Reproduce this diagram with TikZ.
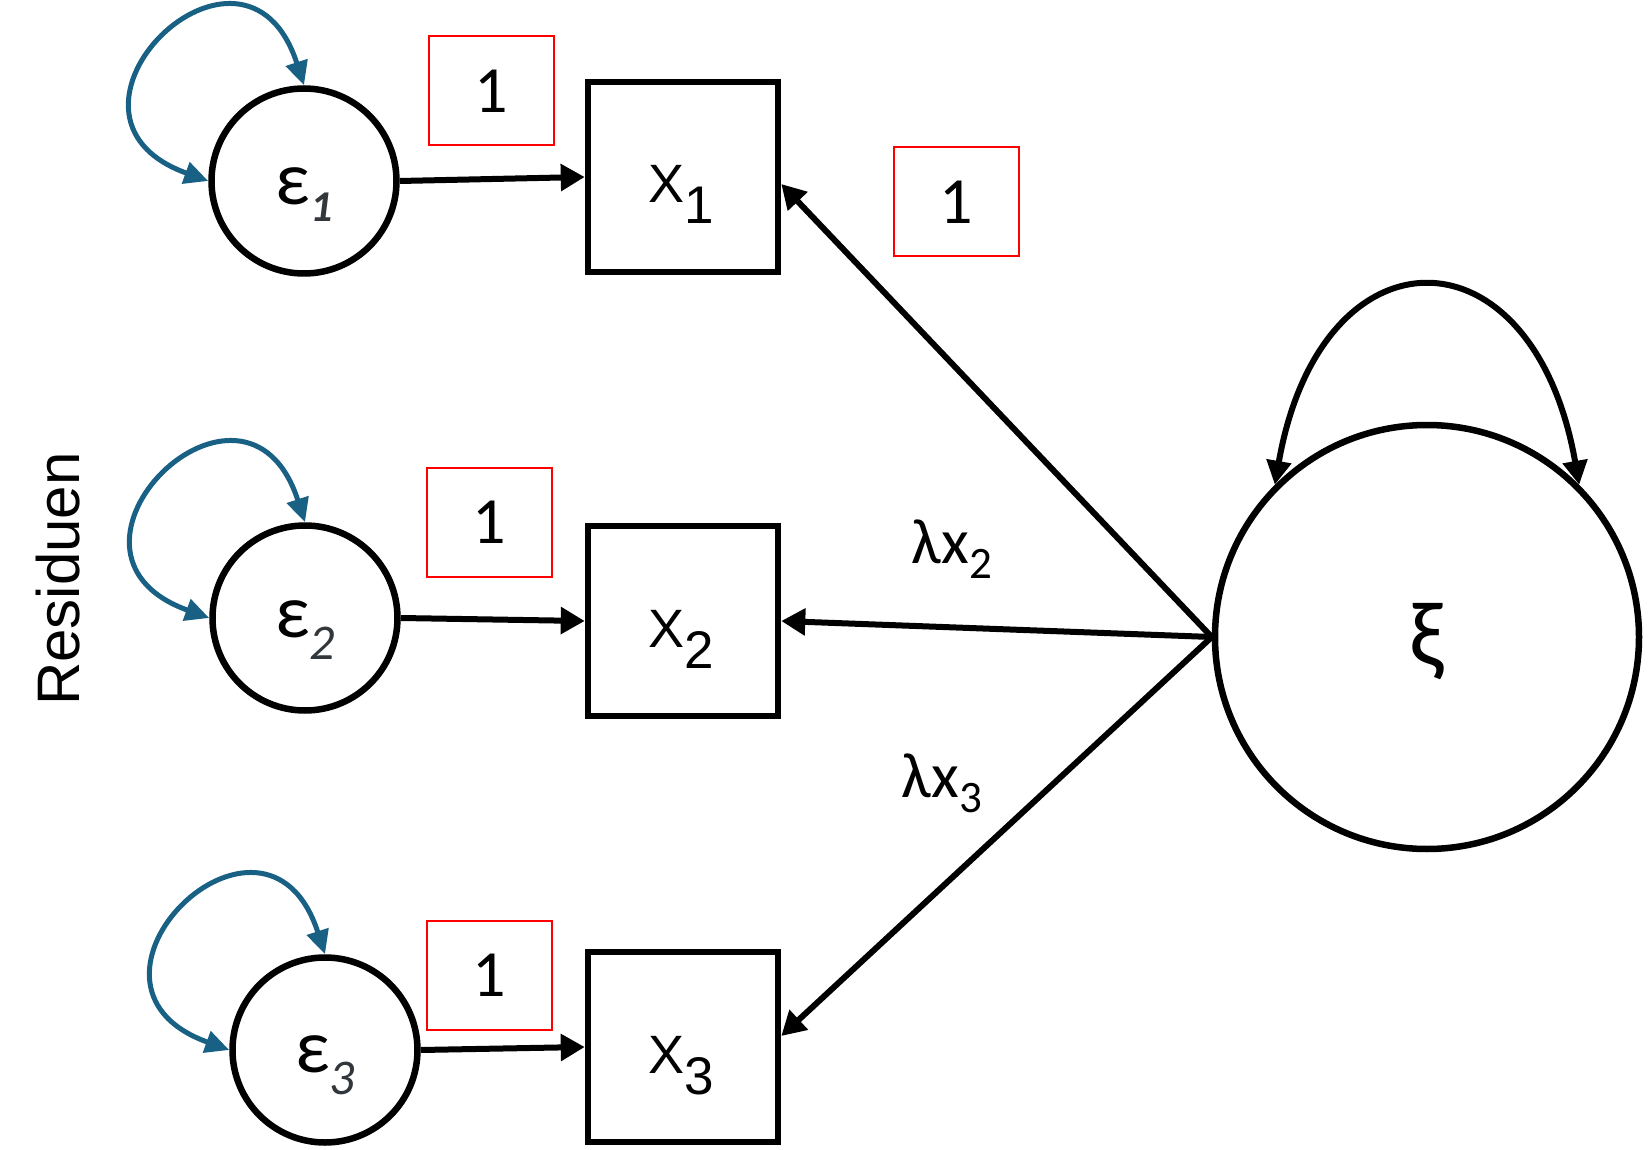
\documentclass[tikz,border=0pt]{standalone}
\usepackage{fontspec}
\setmainfont{Carlito}
\newfontfamily\arialf{Liberation Sans}
\usetikzlibrary{arrows.meta,calc}
\definecolor{loopblue}{RGB}{24,96,132}
\definecolor{subgray}{RGB}{50,55,60}
\newcommand{\fsz}[1]{\fontsize{#1}{#1}\selectfont}
\begin{document}
\begin{tikzpicture}[x=1pt,y=-1pt,
  latent/.style={circle,draw=black,line width=6.5pt,minimum size=185pt,inner sep=0pt},
  manifest/.style={rectangle,draw=black,line width=6.5pt,minimum size=190pt,inner sep=0pt},
  fixbox/.style={rectangle,draw=red,line width=2pt,minimum width=125pt,minimum height=109pt,inner sep=0pt,font=\fsz{66}},
  loadarrow/.style={line width=6pt,-{Triangle[length=24pt,width=26pt]}},
  resloop/.style={draw=loopblue,line width=5pt,{Triangle[length=24pt,width=22pt]}-{Triangle[length=24pt,width=22pt]}},
  bigloop/.style={draw=black,line width=6pt,{Triangle[length=24pt,width=24pt]}-{Triangle[length=24pt,width=24pt]}},
  etxt/.style={anchor=base,inner sep=0pt},
  xtxt/.style={anchor=base,inner sep=0pt,font=\arialf\fsz{54}},
  lab/.style={anchor=base,inner sep=0pt,font=\fsz{64}}
]
\fill[white] (0,0) rectangle (1650,1150);
\useasboundingbox (0,0) rectangle (1650,1150);

% latent residuals
\node[latent] (e1) at (304,181) {};
\node[latent] (e2) at (305,618) {};
\node[latent] (e3) at (325,1050) {};
\node[etxt] (e1t) at (304,205) {\fsz{76}ε\raisebox{-17pt}{\fsz{44}\bfseries\itshape\color{subgray}1}};
\node[etxt] (e2t) at (305,637) {\fsz{76}ε\raisebox{-22pt}{\fsz{50}\itshape\color{subgray}2}};
\node[etxt] (e3t) at (325,1072) {\fsz{76}ε\raisebox{-22pt}{\fsz{50}\itshape\color{subgray}3}};

% manifest variables
\node[manifest] (X1) at (683,177) {};
\node[manifest] (X2) at (683,621) {};
\node[manifest] (X3) at (683,1047) {};
\node[xtxt] (X1t) at (681,203) {X\raisebox{-21pt}{\fsz{53}1}};
\node[xtxt] (X2t) at (681,647) {X\raisebox{-21pt}{\fsz{53}2}};
\node[xtxt] (X3t) at (681,1073) {X\raisebox{-21pt}{\fsz{53}3}};

% latent factor
\node[circle,draw=black,line width=6.5pt,minimum size=424pt,inner sep=0pt] (xi) at (1427,637) {};
\node[inner sep=0pt,font=\fsz{92}] (xit) at (1427,642) {ξ};

% fixed loadings
\node[fixbox] (f1) at (491,91) {1};
\node[fixbox] (f2) at (956,202) {1};
\node[fixbox] (f3) at (489,522) {1};
\node[fixbox] (f4) at (489,975) {1};

% loading labels
\node[lab] (l2) at (952,563) {λx\raisebox{-15pt}{\fsz{45}2}};
\node[lab] (l3) at (942,797) {λx\raisebox{-15pt}{\fsz{45}3}};

% side label
\node[rotate=90,inner sep=0pt,font=\arialf\fsz{60}] (res) at (58,579) {Residuen};

% residual paths
\draw[loadarrow] (e1.east) -- (X1.west);
\draw[loadarrow] (e2.east) -- (X2.west);
\draw[loadarrow] (e3.east) -- (X3.west);

% factor loadings
\draw[loadarrow] (xi.west) -- ($(X1.east)+(0,7)$);
\draw[loadarrow] (xi.west) -- (X2.east);
\draw[loadarrow] (xi.west) -- ($(X3.east)+(0,-11)$);

% variances
\draw[resloop] (e1.north) .. controls +(-60,-185) and +(-183,-66) .. (e1.west);
\draw[resloop] (e2.north) .. controls +(-60,-185) and +(-183,-66) .. (e2.west);
\draw[resloop] (e3.north) .. controls +(-60,-185) and +(-183,-66) .. (e3.west);
\draw[bigloop] (xi.135) .. controls +(46,-262) and +(-46,-262) .. (xi.45);
\end{tikzpicture}
\end{document}
